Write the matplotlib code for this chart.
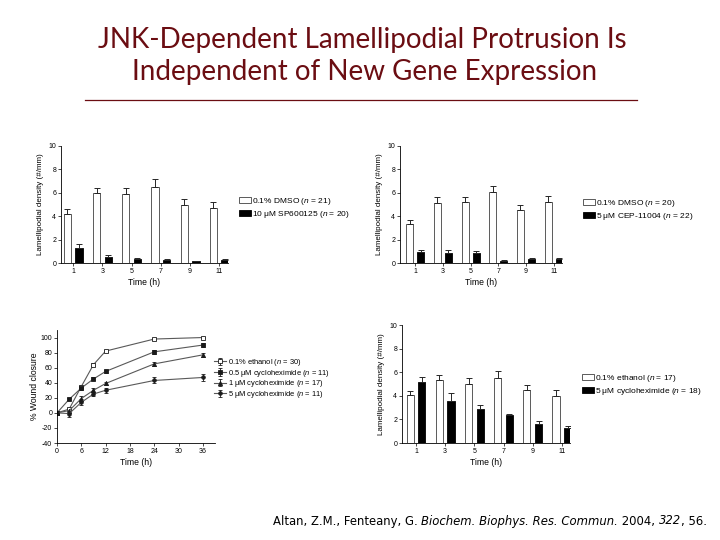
import numpy as np
import matplotlib
matplotlib.use("Agg")
import matplotlib.pyplot as plt

plt.rcParams['font.family'] = ['Liberation Sans', 'DejaVu Sans']
plt.rcParams['mathtext.fontset'] = 'custom'
plt.rcParams['mathtext.rm'] = 'Liberation Sans'
plt.rcParams['mathtext.it'] = 'Liberation Sans:italic'
plt.rcParams['axes.unicode_minus'] = False

# ---- data ----
times_bar = ['1', '3', '5', '7', '9', '11']

# top left: DMSO vs SP600125
dmso_a = [4.2, 6.0, 5.9, 6.5, 5.0, 4.7]
dmso_a_err = [0.4, 0.45, 0.55, 0.7, 0.5, 0.55]
sp = [1.3, 0.5, 0.35, 0.25, 0.15, 0.25]
sp_err = [0.3, 0.15, 0.12, 0.05, 0.03, 0.05]

# top right: DMSO vs CEP-11004
dmso_b = [3.3, 5.1, 5.2, 6.1, 4.5, 5.2]
dmso_b_err = [0.35, 0.5, 0.4, 0.5, 0.5, 0.55]
cep = [0.95, 0.85, 0.85, 0.2, 0.35, 0.35]
cep_err = [0.15, 0.25, 0.15, 0.03, 0.08, 0.05]

# bottom right: ethanol vs cycloheximide
eth_b = [4.1, 5.3, 5.0, 5.5, 4.5, 4.0]
eth_b_err = [0.3, 0.45, 0.5, 0.6, 0.4, 0.45]
chx = [5.2, 3.6, 2.9, 2.4, 1.6, 1.3]
chx_err = [0.4, 0.65, 0.35, 0.05, 0.25, 0.15]

# bottom left: wound closure
t_wound = [0, 3, 6, 9, 12, 24, 36]
eth_w = [0, 5, 35, 64, 82, 98, 100]
eth_w_err = [0, 1.5, 2, 2, 1.5, 1, 1]
chx05 = [0, 18, 33, 45, 55, 81, 90]
chx05_err = [0, 1.5, 2, 2, 2, 3, 3]
chx1 = [0, 3, 19, 30, 39, 65, 77]
chx1_err = [0, 2, 3, 2.5, 2, 3, 3]
chx5 = [0, -1, 14, 25, 30, 43, 47]
chx5_err = [0, 4, 4, 3, 3, 4, 5]

DARK_RED = '#6b0d12'

fig = plt.figure(figsize=(7.2, 5.4), dpi=100)

fig.text(0.503, 1 - 40 / 540, 'JNK-Dependent Lamellipodial Protrusion Is',
         ha='center', va='center', fontsize=20, color=DARK_RED, family='Lato')
fig.text(0.506, 1 - 72 / 540, 'Independent of New Gene Expression',
         ha='center', va='center', fontsize=20, color=DARK_RED, family='Lato')
fig.add_artist(plt.Line2D([85 / 720, 637 / 720], [1 - 100 / 540] * 2,
                          color=DARK_RED, lw=0.9))

# citation, pieced together so the italic parts are real italics
cite = [('Altan, Z.M., Fenteany, G. ', 'normal'),
        ('Biochem. Biophys. Res. Commun.', 'italic'),
        (' 2004, ', 'normal'), ('322', 'italic'), (', 56.', 'normal')]
renderer = fig.canvas.get_renderer()
pieces = []
for txt, st in cite:
    t = fig.text(0, 1 - 521 / 540, txt, ha='left', va='center',
                 fontsize=8.4, style=st, family='DejaVu Sans')
    pieces.append((t, t.get_window_extent(renderer).width))
xpos = 707 - sum(w for _, w in pieces)
for t, w in pieces:
    t.set_x(xpos / 720)
    xpos += w


def style_axes(ax):
    for s in ['top', 'right']:
        ax.spines[s].set_visible(False)
    for s in ['left', 'bottom']:
        ax.spines[s].set_linewidth(0.6)
    ax.tick_params(labelsize=5, length=2, width=0.5, pad=1.5)


def bar_panel(rect, xlim, white, white_err, black, black_err, labels, leg_xy):
    ax = fig.add_axes(rect)
    x = np.arange(len(times_bar))
    z = np.zeros(len(x))
    b1 = ax.bar(x - 0.2, white, 0.25, color='white', edgecolor='0.25', lw=0.6,
                yerr=[z, white_err],
                error_kw=dict(capsize=2, elinewidth=0.7, capthick=0.7, ecolor='0.15'))
    b2 = ax.bar(x + 0.2, black, 0.25, color='black', edgecolor='black', lw=0.6,
                yerr=[z, black_err],
                error_kw=dict(capsize=2, elinewidth=0.7, capthick=0.7, ecolor='0.15'))
    ax.set_xlim(*xlim)
    ax.set_ylim(0, 10)
    ax.set_yticks([0, 2, 4, 6, 8, 10])
    ax.set_xticks(x)
    ax.set_xticklabels(times_bar)
    ax.set_xlabel('Time (h)', fontsize=6.2, labelpad=2)
    ax.set_ylabel('Lamellipodial density (#/mm)', fontsize=5.8, labelpad=3)
    style_axes(ax)
    ax.legend([b1.patches[0], b2.patches[0]], labels, loc='upper left',
              bbox_to_anchor=leg_xy, bbox_transform=fig.transFigure,
              frameon=False, fontsize=6.0, borderpad=0, borderaxespad=0,
              handlelength=1.4, handleheight=0.7, handletextpad=0.2,
              labelspacing=0.2)
    return ax


bar_panel([61 / 720, 1 - 263 / 540, 167 / 720, 117 / 540], (-0.42, 5.3),
          dmso_a, dmso_a_err, sp, sp_err,
          [r'0.1% DMSO ($\it{n}$ = 21)', r'10 μM SP600125 ($\it{n}$ = 20)'],
          (239 / 720, 1 - 196 / 540))

bar_panel([400 / 720, 1 - 263 / 540, 162 / 720, 117 / 540], (-0.55, 5.3),
          dmso_b, dmso_b_err, cep, cep_err,
          [r'0.1% DMSO ($\it{n}$ = 20)', r'5 μM CEP-11004 ($\it{n}$ = 22)'],
          (583 / 720, 1 - 198 / 540))

bar_panel([402 / 720, 1 - 443 / 540, 168 / 720, 118 / 540], (-0.48, 5.28),
          eth_b, eth_b_err, chx, chx_err,
          [r'0.1% ethanol ($\it{n}$ = 17)', r'5 μM cycloheximide ($\it{n}$ = 18)'],
          (582 / 720, 1 - 373 / 540))

# bottom left: line chart
ax = fig.add_axes([57 / 720, 1 - 443 / 540, 158 / 720, 113 / 540])
series = [
    (eth_w, eth_w_err, 's', 'white', r'0.1% ethanol ($\it{n}$ = 30)', 3.2),
    (chx05, chx05_err, 's', '0.1', r'0.5 μM cycloheximide ($\it{n}$ = 11)', 3.2),
    (chx1, chx1_err, '^', '0.1', r'1 μM cycloheximide ($\it{n}$ = 17)', 3.0),
    (chx5, chx5_err, 'o', '0.1', r'5 μM cycloheximide ($\it{n}$ = 11)', 2.6),
]
for y, e, m, fc, lab, ms in series:
    ax.errorbar(t_wound, y, yerr=e, color='0.35', lw=0.8, marker=m, ms=ms,
                mfc=fc, mec='0.1', mew=0.6, capsize=1.2, elinewidth=0.6,
                capthick=0.6, ecolor='0.1', label=lab)
ax.set_xlim(0, 39)
ax.set_ylim(-40, 110)
ax.set_xticks([0, 6, 12, 18, 24, 30, 36])
ax.set_yticks(np.arange(-40, 101, 20))
ax.set_xlabel('Time (h)', fontsize=6.2, labelpad=2)
ax.set_ylabel('% Wound closure', fontsize=6.2, labelpad=1)
style_axes(ax)
ax.legend(loc='upper left', bbox_to_anchor=(214 / 720, 1 - 357 / 540),
          bbox_transform=fig.transFigure, frameon=False, fontsize=5.4,
          borderpad=0, borderaxespad=0, handlelength=1.6,
          handletextpad=0.3, labelspacing=-0.05)

fig.savefig('out.png', dpi=100)
